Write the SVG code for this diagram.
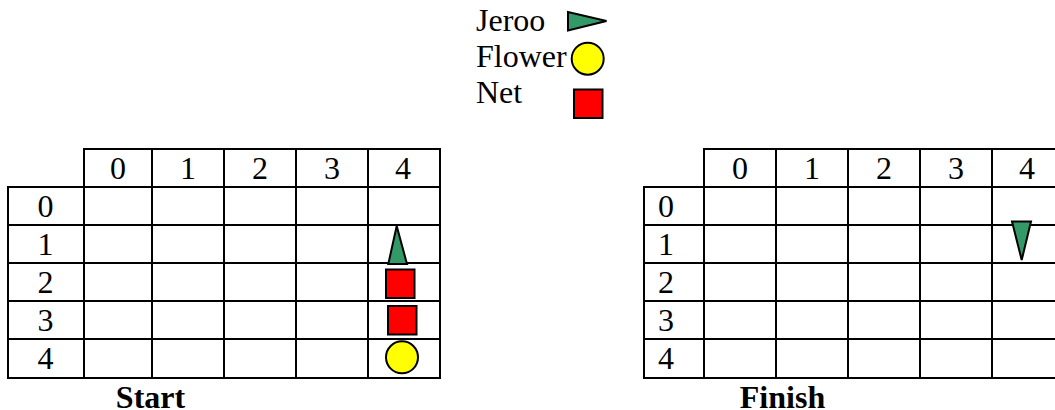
<svg xmlns="http://www.w3.org/2000/svg" width="1055" height="410" viewBox="0 0 1055 410">
<style>
text{font-family:"Liberation Serif","Times New Roman",serif;font-size:32px;fill:#000}
.c{text-anchor:middle}
.b{font-weight:bold}
.g line{stroke:#000;stroke-width:2}
.s{stroke:#000;stroke-width:2;stroke-linejoin:miter}
.j{fill:#339966}.f{fill:#ffff00}.n{fill:#ff0000}
</style>
<rect width="1055" height="410" fill="#fff"/>
<g id="legend">
<text x="476" y="31">Jeroo</text>
<text x="476" y="67">Flower</text>
<text x="476" y="103">Net</text>
<polygon class="s j" points="568,12 568,30.5 606.5,21"/>
<circle class="s f" cx="587.7" cy="58.7" r="16"/>
<rect class="s n" x="574" y="89.5" width="28.5" height="28.5"/>
</g>
<g id="start-grid" class="g">
<line x1="83" y1="149" x2="441" y2="149"/>
<line x1="7" y1="187" x2="441" y2="187"/>
<line x1="7" y1="225" x2="441" y2="225"/>
<line x1="7" y1="263" x2="441" y2="263"/>
<line x1="7" y1="301" x2="441" y2="301"/>
<line x1="7" y1="339" x2="441" y2="339"/>
<line x1="7" y1="378" x2="441" y2="378"/>
<line x1="8" y1="186" x2="8" y2="379"/>
<line x1="84" y1="148" x2="84" y2="379"/>
<line x1="152" y1="148" x2="152" y2="379"/>
<line x1="224" y1="148" x2="224" y2="379"/>
<line x1="296" y1="148" x2="296" y2="379"/>
<line x1="368" y1="148" x2="368" y2="379"/>
<line x1="440" y1="148" x2="440" y2="379"/>
<text class="c" x="118" y="179">0</text>
<text class="c" x="188" y="179">1</text>
<text class="c" x="260" y="179">2</text>
<text class="c" x="332" y="179">3</text>
<text class="c" x="403" y="179">4</text>
<text class="c" x="45.5" y="217">0</text>
<text class="c" x="45.5" y="255">1</text>
<text class="c" x="45.5" y="293">2</text>
<text class="c" x="45.5" y="331">3</text>
<text class="c" x="45.5" y="369">4</text>
<text class="c b" x="150.5" y="408">Start</text>
</g>
<g id="start-jeroo"><polygon class="s j" points="396.7,226 388.3,264 407,264"/></g>
<g id="start-net-1"><rect class="s n" x="386" y="269.5" width="28.5" height="28.5"/></g>
<g id="start-net-2"><rect class="s n" x="388" y="306" width="28.5" height="28.5"/></g>
<g id="start-flower"><circle class="s f" cx="402" cy="357.3" r="16"/></g>
<g id="finish-grid" class="g">
<line x1="703" y1="149" x2="1055" y2="149"/>
<line x1="643" y1="187" x2="1055" y2="187"/>
<line x1="643" y1="225" x2="1055" y2="225"/>
<line x1="643" y1="263" x2="1055" y2="263"/>
<line x1="643" y1="301" x2="1055" y2="301"/>
<line x1="643" y1="339" x2="1055" y2="339"/>
<line x1="643" y1="378" x2="1055" y2="378"/>
<line x1="644" y1="186" x2="644" y2="379"/>
<line x1="704" y1="148" x2="704" y2="379"/>
<line x1="776" y1="148" x2="776" y2="379"/>
<line x1="848" y1="148" x2="848" y2="379"/>
<line x1="920" y1="148" x2="920" y2="379"/>
<line x1="992" y1="148" x2="992" y2="379"/>
<text class="c" x="740" y="179">0</text>
<text class="c" x="812" y="179">1</text>
<text class="c" x="884" y="179">2</text>
<text class="c" x="956" y="179">3</text>
<text class="c" x="1027" y="179">4</text>
<text class="c" x="666" y="217">0</text>
<text class="c" x="666" y="255">1</text>
<text class="c" x="666" y="293">2</text>
<text class="c" x="666" y="331">3</text>
<text class="c" x="666" y="369">4</text>
<text class="c b" x="782.5" y="408">Finish</text>
</g>
<g id="finish-jeroo"><polygon class="s j" points="1012,221.5 1031,221.5 1021.7,260"/></g>
</svg>
